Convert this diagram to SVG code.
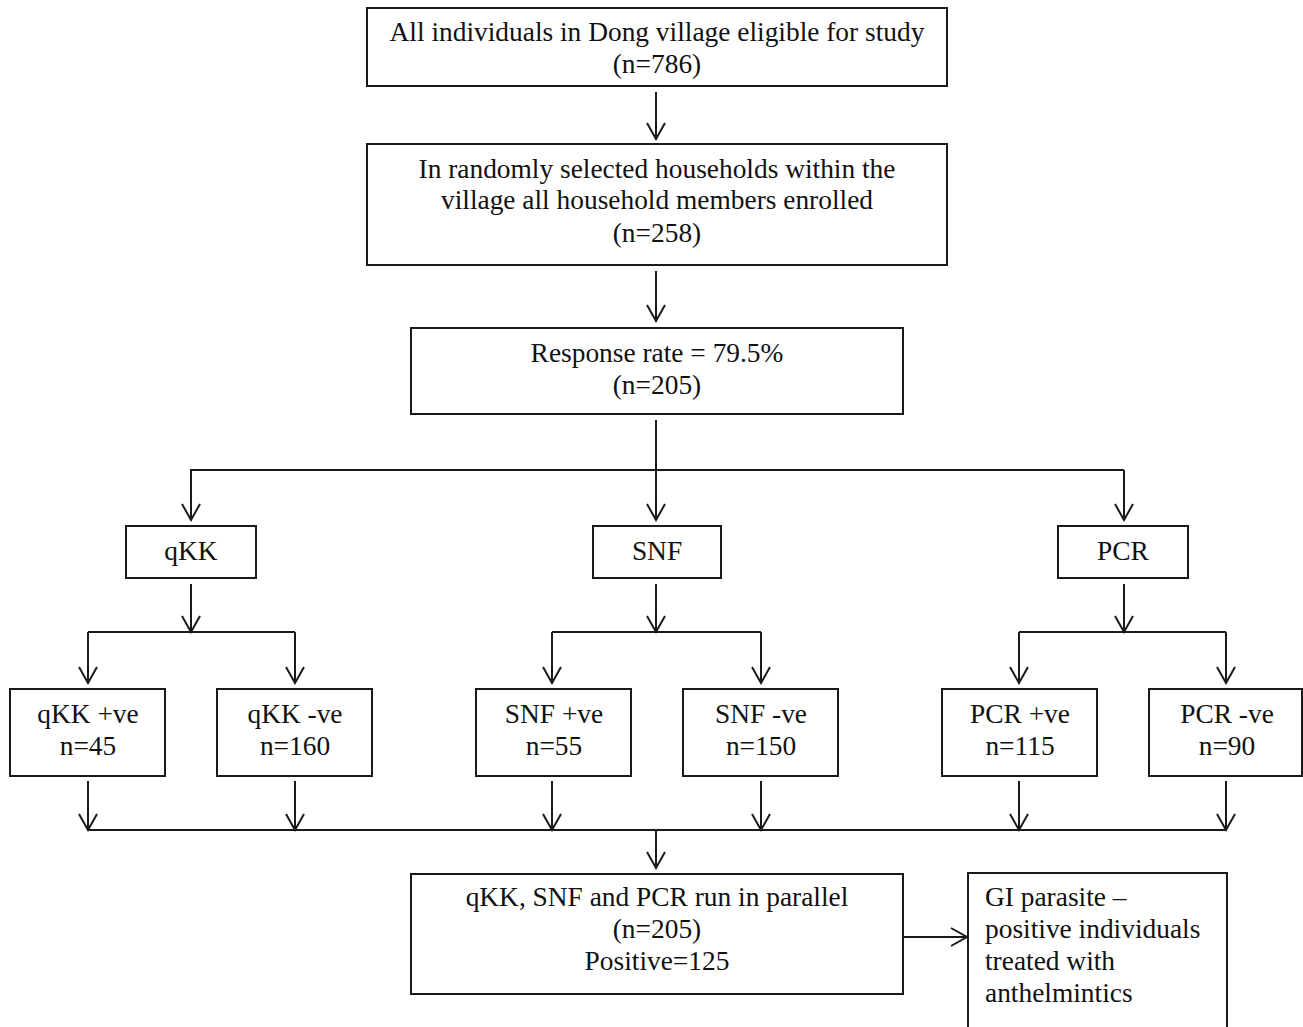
<svg xmlns="http://www.w3.org/2000/svg" width="1303" height="1027" viewBox="0 0 1303 1027">
<style>
rect{fill:#fff;stroke:#1a1a1a;stroke-width:2}
text{font-family:"Liberation Serif","Times New Roman",serif;font-size:27.4px;fill:#111;text-anchor:middle}
text.l{text-anchor:start}
.c{stroke:#1a1a1a;stroke-width:2;fill:none}
</style>
<defs>
<marker id="a" viewBox="0 0 20 20" refX="18" refY="10" markerWidth="20" markerHeight="20" markerUnits="userSpaceOnUse" orient="auto">
<path d="M2,1 L18,10 L2,19" fill="none" stroke="#1a1a1a" stroke-width="2"/>
</marker>
</defs>
<rect width="1303" height="1027" style="fill:#fff;stroke:none"/>
<g id="connectors" class="c">
<path d="M656,92 V139" marker-end="url(#a)"/>
<path d="M656,271 V321" marker-end="url(#a)"/>
<path d="M656,420 V470 M190,470 H1124"/>
<path d="M191,470 V520" marker-end="url(#a)"/>
<path d="M656,470 V520" marker-end="url(#a)"/>
<path d="M1124,470 V520" marker-end="url(#a)"/>
<path d="M191,584 V632" marker-end="url(#a)"/>
<path d="M656,584 V632" marker-end="url(#a)"/>
<path d="M1124,584 V632" marker-end="url(#a)"/>
<path d="M88,632 H295 M552,632 H761 M1019,632 H1226"/>
<path d="M88,632 V683" marker-end="url(#a)"/>
<path d="M295,632 V683" marker-end="url(#a)"/>
<path d="M552,632 V683" marker-end="url(#a)"/>
<path d="M761,632 V683" marker-end="url(#a)"/>
<path d="M1019,632 V683" marker-end="url(#a)"/>
<path d="M1226,632 V683" marker-end="url(#a)"/>
<path d="M88,781 V830" marker-end="url(#a)"/>
<path d="M295,781 V830" marker-end="url(#a)"/>
<path d="M552,781 V830" marker-end="url(#a)"/>
<path d="M761,781 V830" marker-end="url(#a)"/>
<path d="M1019,781 V830" marker-end="url(#a)"/>
<path d="M1226,781 V830" marker-end="url(#a)"/>
<path d="M88,830 H1226"/>
<path d="M656,830 V868" marker-end="url(#a)"/>
<path d="M903,937 H967" marker-end="url(#a)"/>
</g>
<g id="n1"><rect x="367" y="8" width="580" height="78"/><text x="657" y="41">All individuals in Dong village eligible for study</text><text x="657" y="73">(n=786)</text></g>
<g id="n2"><rect x="367" y="144" width="580" height="121"/><text x="657" y="178">In randomly selected households within the</text><text x="657" y="209">village all household members enrolled</text><text x="657" y="242">(n=258)</text></g>
<g id="n3"><rect x="411" y="328" width="492" height="86"/><text x="657" y="362">Response rate = 79.5%</text><text x="657" y="394">(n=205)</text></g>
<g id="qkk"><rect x="126" y="526" width="130" height="52"/><text x="191" y="560">qKK</text></g>
<g id="snf"><rect x="593" y="526" width="128" height="52"/><text x="657" y="560">SNF</text></g>
<g id="pcr"><rect x="1058" y="526" width="130" height="52"/><text x="1123" y="560">PCR</text></g>
<g id="qkkp"><rect x="10" y="689" width="155" height="87"/><text x="88" y="723">qKK +ve</text><text x="88" y="755">n=45</text></g>
<g id="qkkn"><rect x="217" y="689" width="155" height="87"/><text x="295" y="723">qKK -ve</text><text x="295" y="755">n=160</text></g>
<g id="snfp"><rect x="476" y="689" width="155" height="87"/><text x="554" y="723">SNF +ve</text><text x="554" y="755">n=55</text></g>
<g id="snfn"><rect x="683" y="689" width="155" height="87"/><text x="761" y="723">SNF -ve</text><text x="761" y="755">n=150</text></g>
<g id="pcrp"><rect x="942" y="689" width="155" height="87"/><text x="1020" y="723">PCR +ve</text><text x="1020" y="755">n=115</text></g>
<g id="pcrn"><rect x="1149" y="689" width="153" height="87"/><text x="1227" y="723">PCR -ve</text><text x="1227" y="755">n=90</text></g>
<g id="par"><rect x="411" y="874" width="492" height="120"/><text x="657" y="906">qKK, SNF and PCR run in parallel</text><text x="657" y="938">(n=205)</text><text x="657" y="970">Positive=125</text></g>
<g id="gi"><rect x="968" y="873" width="259" height="170"/><text class="l" x="985" y="906">GI parasite –</text><text class="l" x="985" y="938">positive individuals</text><text class="l" x="985" y="970">treated with</text><text class="l" x="985" y="1002">anthelmintics</text></g>
</svg>
